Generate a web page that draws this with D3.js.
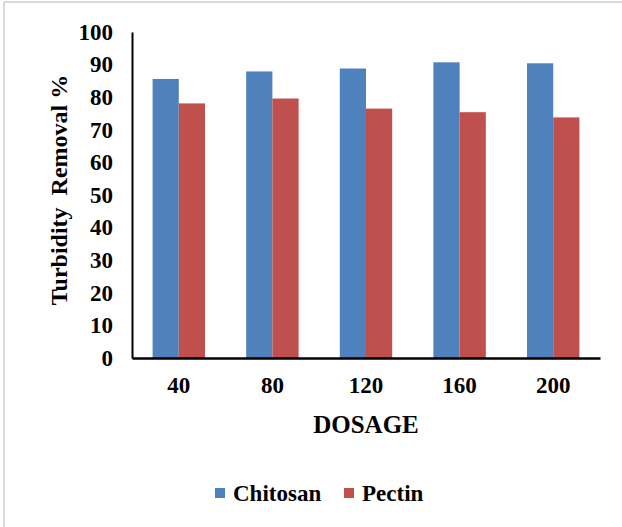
<!DOCTYPE html>
<html>
<head>
<meta charset="utf-8">
<script src="https://cdn.jsdelivr.net/npm/d3@7"></script>
<style>
    body { margin: 0; background: #fff; }
    svg text { font-family: "Liberation Serif", "Times New Roman", serif; font-weight: bold; fill: #000; }
</style>
</head>
<body>
<svg id="chart" width="622" height="527"></svg>
<script>
const dosages = ['40', '80', '120', '160', '200'];
const seriesNames = ['Chitosan', 'Pectin'];
const chitosan = [85.6, 87.9, 88.8, 90.7, 90.4];
const pectin = [78.1, 79.6, 76.5, 75.4, 73.8];
const yTicks = [0, 10, 20, 30, 40, 50, 60, 70, 80, 90, 100];

(function () {
    let svg = d3.select('#chart'),
        margin = {top: 32, right: 22, bottom: 169, left: 132},
        width = 622 - margin.left - margin.right,
        height = 527 - margin.top - margin.bottom,
        serif = '"Liberation Serif", "Times New Roman", serif',
        colors = d3.scaleOrdinal().domain(seriesNames).range(['#4f81bd', '#c0504d']);

    // frame edges
    svg.append('line').attr('x1', 4).attr('x2', 622).attr('y1', 2).attr('y2', 2)
        .attr('stroke', '#d9d9d9').attr('stroke-width', 2);
    svg.append('line').attr('x1', 4).attr('x2', 4).attr('y1', 2).attr('y2', 527)
        .attr('stroke', '#d9d9d9').attr('stroke-width', 2);

    let g = svg.append('g').attr('transform', `translate(${margin.left},${margin.top})`);

    let x0 = d3.scaleBand().domain(dosages).range([0, width]).paddingInner(0.44).paddingOuter(0.22),
        x1 = d3.scaleBand().domain(seriesNames).range([0, x0.bandwidth()]),
        y = d3.scaleLinear().domain([0, 100]).range([height, 0]);

    let rows = dosages.map((d, i) => ({dosage: d, values: [
        {name: 'Chitosan', value: chitosan[i]},
        {name: 'Pectin', value: pectin[i]}
    ]}));

    g.selectAll('.grp')
        .data(rows)
        .enter().append('g')
        .attr('class', 'grp')
        .attr('transform', d => `translate(${x0(d.dosage)},0)`)
        .selectAll('rect')
        .data(d => d.values)
        .enter().append('rect')
        .attr('x', d => x1(d.name))
        .attr('y', d => y(d.value))
        .attr('width', x1.bandwidth())
        .attr('height', d => height - y(d.value))
        .attr('fill', d => colors(d.name));

    let yAxis = g.append('g')
        .call(d3.axisLeft(y).tickValues(yTicks).tickSize(0).tickPadding(19));
    yAxis.attr('font-family', serif).attr('font-size', 23);
    yAxis.select('.domain').attr('stroke', '#000').attr('stroke-width', 2);

    let xAxis = g.append('g')
        .attr('transform', `translate(0,${height})`)
        .call(d3.axisBottom(x0).tickSize(0).tickPadding(19));
    xAxis.attr('font-family', serif).attr('font-size', 23);
    xAxis.select('.domain').attr('stroke', '#000').attr('stroke-width', 2.5);

    svg.append('text')
        .attr('transform', 'translate(59,190) rotate(-90)')
        .attr('text-anchor', 'middle')
        .attr('dy', '0.35em')
        .style('font-size', '24px')
        .attr('xml:space', 'preserve')
        .text('Turbidity  Removal %');

    svg.append('text')
        .attr('x', 366)
        .attr('y', 424)
        .attr('text-anchor', 'middle')
        .attr('dy', '0.35em')
        .style('font-size', '25px')
        .text('DOSAGE');

    let legend = svg.append('g').attr('transform', 'translate(215,488)');
    let items = [{name: 'Chitosan', x: 0}, {name: 'Pectin', x: 129}];
    let li = legend.selectAll('g').data(items).enter().append('g')
        .attr('transform', d => `translate(${d.x},0)`);
    li.append('rect').attr('width', 10).attr('height', 10).attr('fill', d => colors(d.name));
    li.append('text').attr('x', 18).attr('y', 5).attr('dy', '0.35em')
        .style('font-size', '23px')
        .text(d => d.name);
}());
</script>
</body>
</html>
